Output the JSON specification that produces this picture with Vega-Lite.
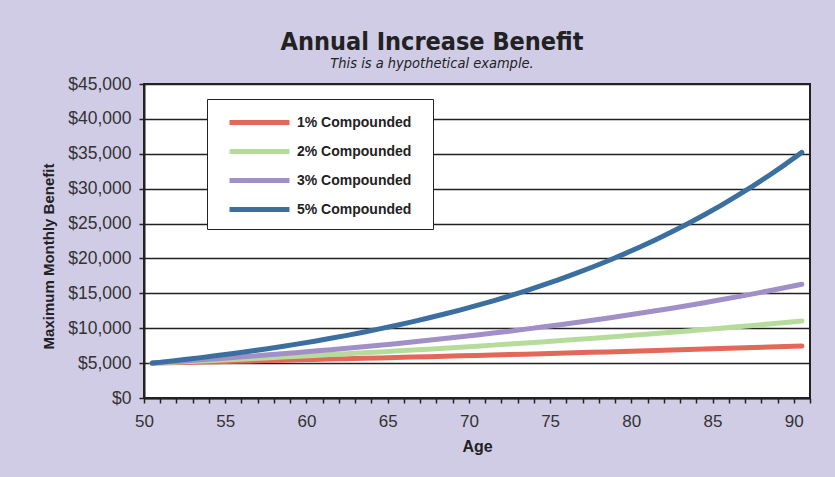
{
  "$schema": "https://vega.github.io/schema/vega-lite/v6.json",
  "width": 666,
  "height": 314,
  "autosize": {"type": "none"},
  "padding": {"left": 144, "top": 84, "right": 25, "bottom": 79},
  "background": "#d0cce6",
  "view": {"stroke": "#222222", "strokeWidth": 2, "fill": "white"},
  "title": {
    "text": "Annual Increase Benefit",
    "subtitle": "This is a hypothetical example.",
    "font": "DejaVu Sans Condensed, DejaVu Sans",
    "fontSize": 25,
    "fontWeight": "bold",
    "color": "#222222",
    "subtitleFont": "DejaVu Sans Condensed, DejaVu Sans",
    "subtitleFontStyle": "italic",
    "subtitleFontSize": 14.5,
    "subtitleColor": "#222222",
    "subtitlePadding": 2,
    "anchor": "middle",
    "frame": "group",
    "dx": -45,
    "offset": 5
  },
  "data": {"values": [
{"age":50,"series":"1% Compounded","benefit":5000},{"age":51,"series":"1% Compounded","benefit":5050},{"age":52,"series":"1% Compounded","benefit":5101},{"age":53,"series":"1% Compounded","benefit":5152},{"age":54,"series":"1% Compounded","benefit":5203},{"age":55,"series":"1% Compounded","benefit":5255},{"age":56,"series":"1% Compounded","benefit":5308},{"age":57,"series":"1% Compounded","benefit":5361},{"age":58,"series":"1% Compounded","benefit":5414},{"age":59,"series":"1% Compounded","benefit":5468},{"age":60,"series":"1% Compounded","benefit":5523},{"age":61,"series":"1% Compounded","benefit":5578},{"age":62,"series":"1% Compounded","benefit":5634},{"age":63,"series":"1% Compounded","benefit":5690},{"age":64,"series":"1% Compounded","benefit":5747},{"age":65,"series":"1% Compounded","benefit":5805},{"age":66,"series":"1% Compounded","benefit":5863},{"age":67,"series":"1% Compounded","benefit":5922},{"age":68,"series":"1% Compounded","benefit":5981},{"age":69,"series":"1% Compounded","benefit":6040},{"age":70,"series":"1% Compounded","benefit":6101},{"age":71,"series":"1% Compounded","benefit":6162},{"age":72,"series":"1% Compounded","benefit":6224},{"age":73,"series":"1% Compounded","benefit":6286},{"age":74,"series":"1% Compounded","benefit":6349},{"age":75,"series":"1% Compounded","benefit":6412},{"age":76,"series":"1% Compounded","benefit":6476},{"age":77,"series":"1% Compounded","benefit":6541},{"age":78,"series":"1% Compounded","benefit":6606},{"age":79,"series":"1% Compounded","benefit":6672},{"age":80,"series":"1% Compounded","benefit":6739},{"age":81,"series":"1% Compounded","benefit":6807},{"age":82,"series":"1% Compounded","benefit":6875},{"age":83,"series":"1% Compounded","benefit":6943},{"age":84,"series":"1% Compounded","benefit":7013},{"age":85,"series":"1% Compounded","benefit":7083},{"age":86,"series":"1% Compounded","benefit":7154},{"age":87,"series":"1% Compounded","benefit":7225},{"age":88,"series":"1% Compounded","benefit":7298},{"age":89,"series":"1% Compounded","benefit":7371},{"age":90,"series":"1% Compounded","benefit":7444},
{"age":50,"series":"2% Compounded","benefit":5000},{"age":51,"series":"2% Compounded","benefit":5100},{"age":52,"series":"2% Compounded","benefit":5202},{"age":53,"series":"2% Compounded","benefit":5306},{"age":54,"series":"2% Compounded","benefit":5412},{"age":55,"series":"2% Compounded","benefit":5520},{"age":56,"series":"2% Compounded","benefit":5631},{"age":57,"series":"2% Compounded","benefit":5743},{"age":58,"series":"2% Compounded","benefit":5858},{"age":59,"series":"2% Compounded","benefit":5975},{"age":60,"series":"2% Compounded","benefit":6095},{"age":61,"series":"2% Compounded","benefit":6217},{"age":62,"series":"2% Compounded","benefit":6341},{"age":63,"series":"2% Compounded","benefit":6468},{"age":64,"series":"2% Compounded","benefit":6597},{"age":65,"series":"2% Compounded","benefit":6729},{"age":66,"series":"2% Compounded","benefit":6864},{"age":67,"series":"2% Compounded","benefit":7001},{"age":68,"series":"2% Compounded","benefit":7141},{"age":69,"series":"2% Compounded","benefit":7284},{"age":70,"series":"2% Compounded","benefit":7430},{"age":71,"series":"2% Compounded","benefit":7578},{"age":72,"series":"2% Compounded","benefit":7730},{"age":73,"series":"2% Compounded","benefit":7884},{"age":74,"series":"2% Compounded","benefit":8042},{"age":75,"series":"2% Compounded","benefit":8203},{"age":76,"series":"2% Compounded","benefit":8367},{"age":77,"series":"2% Compounded","benefit":8534},{"age":78,"series":"2% Compounded","benefit":8705},{"age":79,"series":"2% Compounded","benefit":8879},{"age":80,"series":"2% Compounded","benefit":9057},{"age":81,"series":"2% Compounded","benefit":9238},{"age":82,"series":"2% Compounded","benefit":9423},{"age":83,"series":"2% Compounded","benefit":9611},{"age":84,"series":"2% Compounded","benefit":9803},{"age":85,"series":"2% Compounded","benefit":9999},{"age":86,"series":"2% Compounded","benefit":10199},{"age":87,"series":"2% Compounded","benefit":10403},{"age":88,"series":"2% Compounded","benefit":10612},{"age":89,"series":"2% Compounded","benefit":10824},{"age":90,"series":"2% Compounded","benefit":11040},
{"age":50,"series":"3% Compounded","benefit":5000},{"age":51,"series":"3% Compounded","benefit":5150},{"age":52,"series":"3% Compounded","benefit":5305},{"age":53,"series":"3% Compounded","benefit":5464},{"age":54,"series":"3% Compounded","benefit":5628},{"age":55,"series":"3% Compounded","benefit":5796},{"age":56,"series":"3% Compounded","benefit":5970},{"age":57,"series":"3% Compounded","benefit":6149},{"age":58,"series":"3% Compounded","benefit":6334},{"age":59,"series":"3% Compounded","benefit":6524},{"age":60,"series":"3% Compounded","benefit":6720},{"age":61,"series":"3% Compounded","benefit":6921},{"age":62,"series":"3% Compounded","benefit":7129},{"age":63,"series":"3% Compounded","benefit":7343},{"age":64,"series":"3% Compounded","benefit":7563},{"age":65,"series":"3% Compounded","benefit":7790},{"age":66,"series":"3% Compounded","benefit":8024},{"age":67,"series":"3% Compounded","benefit":8264},{"age":68,"series":"3% Compounded","benefit":8512},{"age":69,"series":"3% Compounded","benefit":8768},{"age":70,"series":"3% Compounded","benefit":9031},{"age":71,"series":"3% Compounded","benefit":9301},{"age":72,"series":"3% Compounded","benefit":9581},{"age":73,"series":"3% Compounded","benefit":9868},{"age":74,"series":"3% Compounded","benefit":10164},{"age":75,"series":"3% Compounded","benefit":10469},{"age":76,"series":"3% Compounded","benefit":10783},{"age":77,"series":"3% Compounded","benefit":11106},{"age":78,"series":"3% Compounded","benefit":11440},{"age":79,"series":"3% Compounded","benefit":11783},{"age":80,"series":"3% Compounded","benefit":12136},{"age":81,"series":"3% Compounded","benefit":12500},{"age":82,"series":"3% Compounded","benefit":12875},{"age":83,"series":"3% Compounded","benefit":13262},{"age":84,"series":"3% Compounded","benefit":13660},{"age":85,"series":"3% Compounded","benefit":14069},{"age":86,"series":"3% Compounded","benefit":14491},{"age":87,"series":"3% Compounded","benefit":14926},{"age":88,"series":"3% Compounded","benefit":15374},{"age":89,"series":"3% Compounded","benefit":15835},{"age":90,"series":"3% Compounded","benefit":16310},
{"age":50,"series":"5% Compounded","benefit":5000},{"age":51,"series":"5% Compounded","benefit":5250},{"age":52,"series":"5% Compounded","benefit":5513},{"age":53,"series":"5% Compounded","benefit":5788},{"age":54,"series":"5% Compounded","benefit":6078},{"age":55,"series":"5% Compounded","benefit":6381},{"age":56,"series":"5% Compounded","benefit":6700},{"age":57,"series":"5% Compounded","benefit":7036},{"age":58,"series":"5% Compounded","benefit":7387},{"age":59,"series":"5% Compounded","benefit":7757},{"age":60,"series":"5% Compounded","benefit":8144},{"age":61,"series":"5% Compounded","benefit":8552},{"age":62,"series":"5% Compounded","benefit":8979},{"age":63,"series":"5% Compounded","benefit":9428},{"age":64,"series":"5% Compounded","benefit":9900},{"age":65,"series":"5% Compounded","benefit":10395},{"age":66,"series":"5% Compounded","benefit":10914},{"age":67,"series":"5% Compounded","benefit":11460},{"age":68,"series":"5% Compounded","benefit":12033},{"age":69,"series":"5% Compounded","benefit":12635},{"age":70,"series":"5% Compounded","benefit":13266},{"age":71,"series":"5% Compounded","benefit":13930},{"age":72,"series":"5% Compounded","benefit":14626},{"age":73,"series":"5% Compounded","benefit":15358},{"age":74,"series":"5% Compounded","benefit":16125},{"age":75,"series":"5% Compounded","benefit":16932},{"age":76,"series":"5% Compounded","benefit":17778},{"age":77,"series":"5% Compounded","benefit":18667},{"age":78,"series":"5% Compounded","benefit":19601},{"age":79,"series":"5% Compounded","benefit":20581},{"age":80,"series":"5% Compounded","benefit":21610},{"age":81,"series":"5% Compounded","benefit":22690},{"age":82,"series":"5% Compounded","benefit":23825},{"age":83,"series":"5% Compounded","benefit":25016},{"age":84,"series":"5% Compounded","benefit":26267},{"age":85,"series":"5% Compounded","benefit":27580},{"age":86,"series":"5% Compounded","benefit":28959},{"age":87,"series":"5% Compounded","benefit":30407},{"age":88,"series":"5% Compounded","benefit":31927},{"age":89,"series":"5% Compounded","benefit":33524},{"age":90,"series":"5% Compounded","benefit":35200}
  ]},
  "mark": {"type": "line", "strokeWidth": 5, "strokeCap": "round", "strokeJoin": "round"},
  "encoding": {
    "x": {
      "field": "age",
      "type": "ordinal",
      "scale": {"type": "band", "paddingInner": 0, "paddingOuter": 0},
      "axis": {
        "title": "Age",
        "titleFont": "Liberation Sans",
        "titleFontSize": 16,
        "titleFontWeight": "bold",
        "titleColor": "#222222",
        "titlePadding": 9,
        "tickBand": "extent",
        "labelOffset": -8.12,
        "labelAngle": 0,
        "labelExpr": "datum.value % 5 === 0 ? datum.label : ''",
        "labelFont": "Liberation Sans",
        "labelFontSize": 17,
        "labelColor": "#333333",
        "labelPadding": 10,
        "labelOverlap": false,
        "tickSize": 5,
        "tickColor": "#222222",
        "tickWidth": 1.5,
        "domainColor": "#222222",
        "domainWidth": 2,
        "grid": false
      }
    },
    "y": {
      "field": "benefit",
      "type": "quantitative",
      "scale": {"domain": [0, 45000]},
      "axis": {
        "title": "Maximum Monthly Benefit",
        "titleFont": "Liberation Sans",
        "titleFontSize": 15,
        "titleFontWeight": "bold",
        "titleColor": "#222222",
        "titlePadding": 11,
        "titleY": 172,
        "values": [0, 5000, 10000, 15000, 20000, 25000, 30000, 35000, 40000, 45000],
        "format": "$,.0f",
        "labelFont": "Liberation Sans",
        "labelFontSize": 17.5,
        "labelColor": "#333333",
        "labelPadding": 8,
        "tickSize": 5,
        "tickColor": "#222222",
        "tickWidth": 1.5,
        "domainColor": "#222222",
        "domainWidth": 2,
        "grid": true,
        "gridColor": "#222222",
        "gridWidth": 1.3
      }
    },
    "color": {
      "field": "series",
      "type": "nominal",
      "scale": {
        "domain": ["1% Compounded", "2% Compounded", "3% Compounded", "5% Compounded"],
        "range": ["#e2685a", "#b6dc9c", "#a18fc8", "#3b6f9f"]
      },
      "legend": {
        "title": "\u00a0",
        "titleOrient": "right",
        "titlePadding": 13,
        "titleFontSize": 14,
        "orient": "none",
        "legendX": 63,
        "legendY": 15,
        "fillColor": "white",
        "strokeColor": "#222222",
        "padding": 9,
        "symbolType": "M-2.5,0H2.5",
        "symbolSize": 576,
        "symbolStrokeWidth": 5,
        "symbolOffset": 29,
        "labelOffset": 23,
        "labelFont": "Liberation Sans",
        "labelFontSize": 14,
        "labelFontWeight": "bold",
        "labelColor": "#222222",
        "labelLimit": 300,
        "rowPadding": 4
      }
    }
  }
}
